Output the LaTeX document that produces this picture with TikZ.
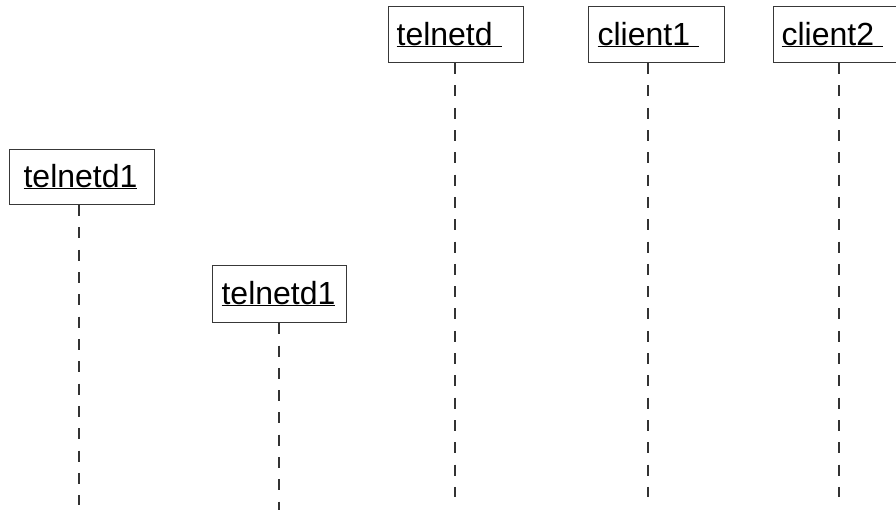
\documentclass[tikz,border=0pt]{standalone}
\usepackage{fontspec}
\setmainfont{Liberation Sans}

% underline drawn as a thin rule just below the baseline
\newcommand\lineunder[1]{\setbox0\hbox{#1}\rlap{\rule[-1.6pt]{\wd0}{1.1pt}}\box0}
% fixed-width label: left padding, underlined text, rest filled
\newcommand\boxlabel[3]{\hbox to #1pt{\hskip #2pt\lineunder{#3}\hfil}}

\begin{document}
\begin{tikzpicture}[x=1pt,y=-1pt,
  objbox/.style={draw=black!78, line width=1.2pt, inner sep=0pt, anchor=north west,
                 font=\fontsize{32}{38}\selectfont},
  lifeline/.style={draw=black!80, line width=1.3pt, dash pattern=on 11pt off 11.3pt}]
\useasboundingbox (0,0) rectangle (896,510);
\clip (0,0) rectangle (896,510);

% objects
\node[objbox, minimum height=56pt] (td) at (388,6) {\boxlabel{135}{8}{telnetd\ }};
\node[objbox, minimum height=56pt] (c1) at (588,6) {\boxlabel{136}{9}{client1\ }};
\node[objbox, minimum height=56pt] (c2) at (773,6) {\boxlabel{136}{8}{client2\ }};
\node[objbox, minimum height=55pt] (ta) at (9,149) {\boxlabel{145}{14}{telnetd1}};
\node[objbox, minimum height=57pt] (tb) at (212,265) {\boxlabel{134}{9}{telnetd1}};

% lifeline ends
\coordinate (tdend) at (455,497);
\coordinate (c1end) at (648,497);
\coordinate (c2end) at (839,497);
\coordinate (taend) at (79,505);
\coordinate (tbend) at (279,510);

% lifelines
\draw[lifeline] (td.south west -| tdend) -- (tdend);
\draw[lifeline] (c1.south west -| c1end) -- (c1end);
\draw[lifeline] (c2.south west -| c2end) -- (c2end);
\draw[lifeline] (ta.south west -| taend) -- (taend);
\draw[lifeline] (tb.south west -| tbend) -- (tbend);
\end{tikzpicture}
\end{document}
